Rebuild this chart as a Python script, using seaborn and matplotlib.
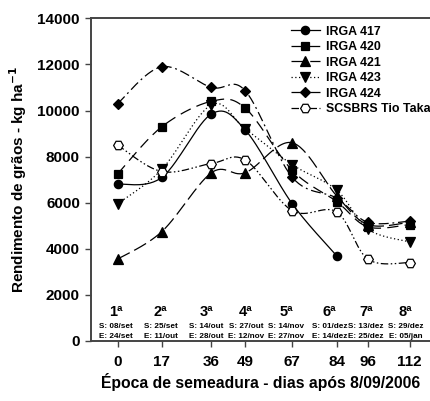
import numpy as np
import pandas as pd
import matplotlib
matplotlib.use("Agg")
import matplotlib.pyplot as plt
from matplotlib.lines import Line2D
import seaborn as sns

# ---- data ----
days = [0, 17, 36, 49, 67, 84, 96, 112]
ordinals = ["1ª", "2ª", "3ª", "4ª", "5ª", "6ª", "7ª", "8ª"]
sowing = ["S: 08/set", "S: 25/set", "S: 14/out", "S: 27/out", "S: 14/nov", "S: 01/dez", "S: 13/dez", "S: 29/dez"]
emerg = ["E: 24/set", "E: 11/out", "E: 28/out", "E: 12/nov", "E: 27/nov", "E: 14/dez", "E: 25/dez", "E: 05/jan"]

irga417 = [6800, 7100, 9850, 9150, 5950, 3700, None, None]
irga420 = [7250, 9300, 10400, 10100, 7400, 6050, 4950, 5050]
irga421 = [3550, 4750, 7300, 7300, 8600, 6300, 5050, 5150]
irga423 = [5950, 7450, 10250, 9200, 7650, 6550, 4850, 4300]
irga424 = [10300, 11900, 11000, 10850, 7100, 6200, 5150, 5200]
tiotaka = [8500, 7350, 7700, 7850, 5650, 5600, 3550, 3400]

# horizontal nudges (in points) of the per-sowing annotation blocks
label_nudge = [-1, -1, -3.5, 0.3, -4.3, -5, -1.3, -2.8]

series = [
    ("IRGA 417", irga417, "o", "black", "-", 6.0),
    ("IRGA 420", irga420, "s", "black", (0, (9, 5)), 6.0),
    ("IRGA 421", irga421, "^", "black", (0, (11, 4)), 6.5),
    ("IRGA 423", irga423, "v", "black", (0, (1, 2)), 6.5),
    ("IRGA 424", irga424, "D", "black", (0, (8, 3, 1.5, 3)), 5.5),
    ("SCSBRS Tio Taka", tiotaka, "H", "white", (0, (6, 2, 1.2, 2, 1.2, 2)), 7.0),
]

def smooth(xs, ys, n=30):
    pts = [(x, y) for x, y in zip(xs, ys) if y is not None]
    P = np.array(pts, dtype=float)
    out = [P[0]]
    for i in range(len(P) - 1):
        p0 = P[i - 1] if i > 0 else P[i]
        p1 = P[i]
        p2 = P[i + 1]
        p3 = P[i + 2] if i + 2 < len(P) else P[i + 1]
        c1 = p1 + (p2 - p0) / 6.0
        c2 = p2 - (p3 - p1) / 6.0
        t = np.linspace(0, 1, n)[1:, None]
        b = ((1 - t) ** 3) * p1 + 3 * ((1 - t) ** 2) * t * c1 + 3 * (1 - t) * t ** 2 * c2 + t ** 3 * p2
        out.extend(b)
    out = np.array(out)
    return out[:, 0], out[:, 1]

plt.rcParams["font.family"] = ["Liberation Sans", "DejaVu Sans"]
plt.rcParams["font.weight"] = "bold"

fig = plt.figure(figsize=(4.31, 4.01), dpi=100)
ax = fig.add_axes([91 / 431, 60 / 401, 340 / 431, 322.7 / 401])

handles = []
for name, vals, mk, fc, ls, ms in series:
    sx, sy = smooth(days, vals)
    sns.lineplot(x=sx, y=sy, sort=False, ax=ax, color="black", linewidth=0.9, estimator=None)
    ax.lines[-1].set_linestyle(ls)
    df = pd.DataFrame({"x": days, "y": vals}).dropna()
    ax.plot(df["x"], df["y"], linestyle="none", marker=mk, markersize=ms,
            markerfacecolor=fc, markeredgecolor="black", markeredgewidth=0.9, zorder=3)
    handles.append(Line2D([0], [0], color="black", linewidth=0.9, linestyle=ls,
                          marker=mk, markersize=ms, markerfacecolor=fc,
                          markeredgecolor="black", markeredgewidth=0.9, label=name))

ax.set_xlim(-10.2, 120.2)
ax.set_ylim(0, 14000)
ax.set_xticks(days)
ax.set_xticklabels([str(d) for d in days], fontsize=11, fontweight="bold")
ax.set_yticks(range(0, 14001, 2000))
ax.set_yticklabels([str(v) for v in range(0, 14001, 2000)], fontsize=11, fontweight="bold")
ax.tick_params(axis="both", direction="out", length=4, width=1, color="#444444", pad=4)
ax.tick_params(axis="x", pad=6)
for s in ["left", "bottom", "top"]:
    ax.spines[s].set_linewidth(1.4)
    ax.spines[s].set_color("#444444")
ax.spines["right"].set_visible(False)

ax.set_ylabel("Rendimento de grãos - kg ha$^{\\mathbf{-1}}$", fontsize=11, fontweight="bold", labelpad=6)
ax.set_xlabel("Época de semeadura - dias após 8/09/2006", fontsize=11.3, fontweight="bold", labelpad=3)

for d, o, s, e, nd in zip(days, ordinals, sowing, emerg, label_nudge):
    kw = dict(ha="center", va="center", fontweight="bold", textcoords="offset points")
    ax.annotate(o, (d, 1260), xytext=(nd, 0), fontsize=10.5, **kw)
    ax.annotate(s, (d, 610), xytext=(nd, 0), fontsize=5.9, **kw)
    ax.annotate(e, (d, 190), xytext=(nd, 0), fontsize=5.9, **kw)

leg = ax.legend(handles=handles, loc="upper left", bbox_to_anchor=(0.565, 1.0),
                frameon=False, fontsize=8.9, handlelength=2.4, handletextpad=0.5,
                labelspacing=0.28, borderaxespad=0.2)
for t in leg.get_texts():
    t.set_fontweight("bold")

fig.savefig("out.png", dpi=100)
